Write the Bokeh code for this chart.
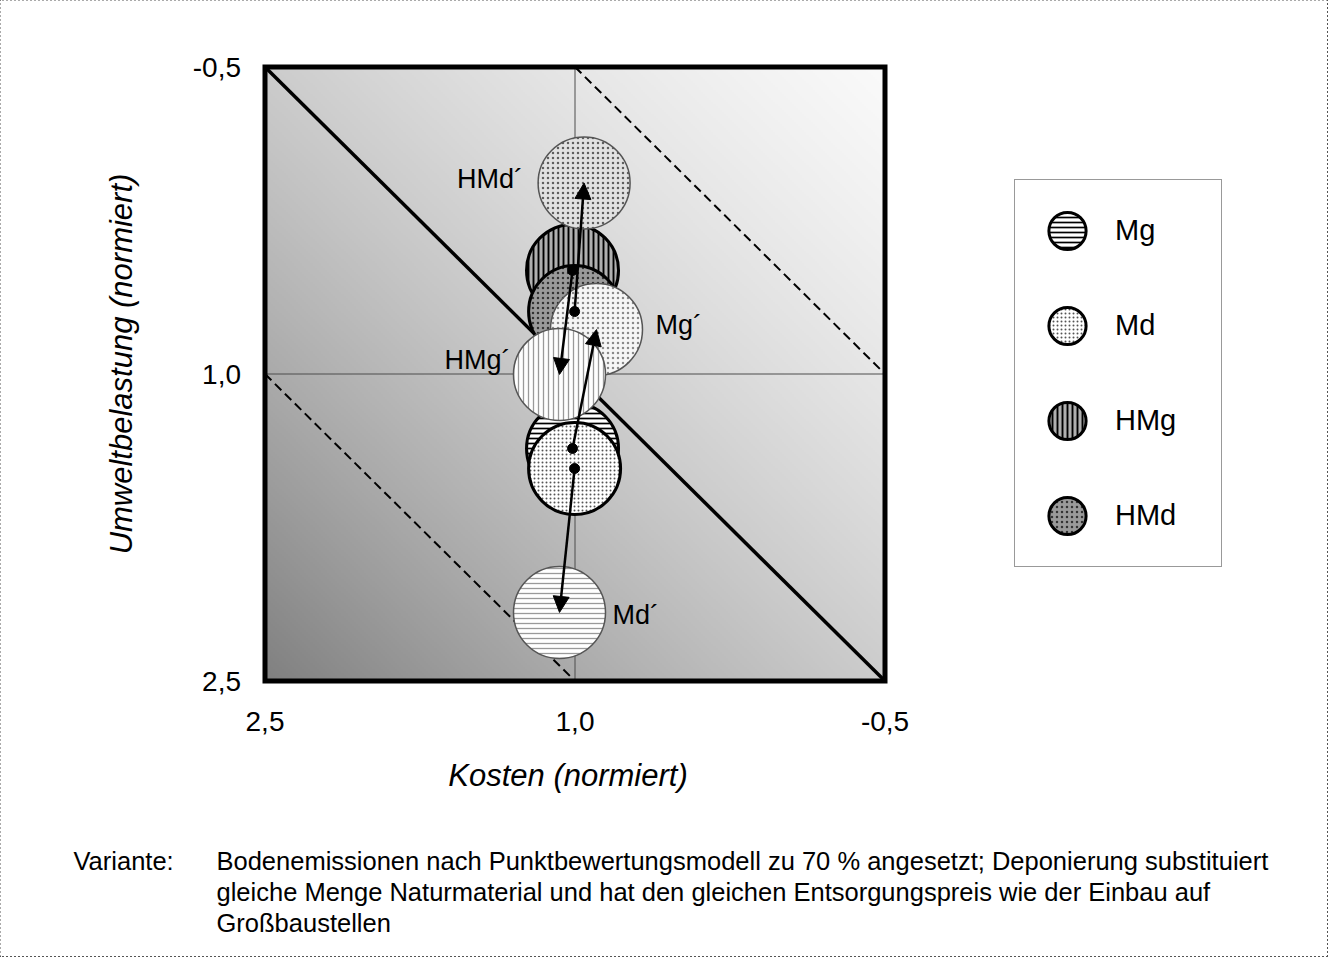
import numpy as np
from bokeh.plotting import figure
from bokeh.models import (Range1d, FixedTicker, Legend, LegendItem, Label,
                          Arrow, NormalHead, ColumnDataSource)
from bokeh.core.properties import value
from bokeh.embed import file_html
from bokeh.resources import INLINE

# ---------------- data ----------------
series = ["Mg", "Md", "HMg", "HMd"]
cost_before = [1.012, 1.002, 1.012, 1.002]
env_before = [1.364, 1.462, 0.494, 0.695]
series_after = ["Mg´", "Md´", "HMg´", "HMd´"]
cost_after = [0.896, 1.075, 1.075, 0.956]
env_after = [0.783, 2.165, 1.002, 0.067]

tick_values = [-0.5, 1.0, 2.5]
tick_labels = ["-0,5", "1,0", "2,5"]
axis_low, axis_high = -0.5, 2.5
reference_value = 1.0

balance_cost = [2.5, -0.5]
balance_env = [-0.5, 2.5]
upper_cost = [1.0, -0.5]
upper_env = [-0.5, 1.0]
lower_cost = [2.5, 1.0]
lower_env = [1.0, 2.5]

x_title = "Kosten (normiert)"
y_title = "Umweltbelastung (normiert)"
caption_head = "Variante:"
caption_lines = [
    "Bodenemissionen nach Punktbewertungsmodell zu 70 % angesetzt; Deponierung substituiert",
    "gleiche Menge Naturmaterial und hat den gleichen Entsorgungspreis wie der Einbau auf",
    "Großbaustellen",
]

# ---------------- layout / styles ----------------
FONT = "Liberation Sans"
W, H = 1327, 956
PX_LEFT, PX_RIGHT = 264.5, 884.5      # square chart area in canvas pixels
PX_TOP, PX_BOTTOM = 66.5, 680.5

span = axis_high - axis_low
kx = (PX_RIGHT - PX_LEFT) / span
ky = (PX_BOTTOM - PX_TOP) / span
x_range = Range1d(axis_high + PX_LEFT / kx, axis_low - (W - PX_RIGHT) / kx)
y_range = Range1d(axis_high + (H - PX_BOTTOM) / ky, axis_low - PX_TOP / ky)

before_styles = {
    "Mg":  dict(fill_color="white", hatch_pattern="horizontal_line", hatch_color="black", hatch_scale=5, hatch_weight=1.7),
    "Md":  dict(fill_color="white", hatch_pattern="dot", hatch_color="#555555", hatch_scale=4, hatch_weight=1),
    "HMg": dict(fill_color="#b0b0b0", hatch_pattern="vertical_line", hatch_color="black", hatch_scale=5, hatch_weight=1.9),
    "HMd": dict(fill_color="#9a9a9a", hatch_pattern="dot", hatch_color="#333333", hatch_scale=5, hatch_weight=2),
}
after_styles = {
    "Mg´":  dict(fill_color="#f6f6f6", hatch_pattern="dot", hatch_color="#8a8a8a", hatch_scale=5, hatch_weight=1),
    "Md´":  dict(fill_color="white", hatch_pattern="horizontal_line", hatch_color="#9a9a9a", hatch_scale=5, hatch_weight=1.3),
    "HMg´": dict(fill_color="white", hatch_pattern="vertical_line", hatch_color="#9a9a9a", hatch_scale=5, hatch_weight=1.3),
    "HMd´": dict(fill_color="#e2e2e2", hatch_pattern="dot", hatch_color="#5e5e5e", hatch_scale=5, hatch_weight=2),
}
label_offsets = {"Mg´": (59, -5, "left"), "Md´": (53, 3, "left"),
                 "HMg´": (-49, -14, "right"), "HMd´": (-61, -4, "right")}

p = figure(width=W, height=H, min_border=0, x_range=x_range, y_range=y_range,
           output_backend="svg", toolbar_location=None)
p.title.visible = False
p.background_fill_color = "white"
p.border_fill_color = "white"
p.outline_line_color = None
p.styles = {"outline": "2px dotted #555555", "outline-offset": "-1px"}
p.xgrid.visible = False
p.ygrid.visible = False

# background gradient (dark bottom-left -> light top-right) on the square area
p.extra_x_ranges = {"bg": Range1d(-PX_LEFT / (PX_RIGHT - PX_LEFT), (W - PX_LEFT) / (PX_RIGHT - PX_LEFT))}
p.extra_y_ranges = {"bg": Range1d(-(H - PX_BOTTOM) / (PX_BOTTOM - PX_TOP), 1 + PX_TOP / (PX_BOTTOM - PX_TOP))}
n = 300
ii, jj = np.mgrid[0:n, 0:n]
t = (ii + jj) / (2.0 * (n - 1))
g = np.clip(128 + 182 * t - 60 * t ** 2, 0, 255).astype(np.uint32)
img = ((255 << 24) | (g << 16) | (g << 8) | g).astype(np.uint32)
p.image_rgba(image=[img], x=0, y=0, dw=1, dh=1,
             x_range_name="bg", y_range_name="bg", level="image")

# axes, fixed on the edges of the square
for ax in (p.xaxis, p.yaxis):
    ax.fixed_location = axis_high
    ax.ticker = FixedTicker(ticks=tick_values)
    ax.major_label_overrides = dict(zip(tick_values, tick_labels))
    ax.axis_line_color = None
    ax.major_tick_line_color = None
    ax.minor_tick_line_color = None
    ax.major_tick_in = 0
    ax.major_tick_out = 0
    ax.major_label_text_font = FONT
    ax.major_label_text_font_size = "28px"
    ax.major_label_text_color = "black"
    ax.axis_label_text_font = FONT
    ax.axis_label_text_font_size = "31px"
    ax.axis_label_text_font_style = "italic"
    ax.axis_label_text_color = "black"
# bounds slightly extended so that the titles sit where the original places them
p.xaxis.bounds = (axis_low, axis_high + 0.07)
p.yaxis.bounds = (axis_low - 0.1, axis_high)
p.xaxis.axis_label = x_title
p.yaxis.axis_label = y_title
p.xaxis.major_label_standoff = 31
p.yaxis.major_label_standoff = 24
p.xaxis.axis_label_standoff = 23
p.yaxis.axis_label_standoff = 51
p.yaxis.major_label_orientation = "horizontal"

# reference (cross) lines at the normalised value 1.0
p.line([reference_value, reference_value], [axis_low, axis_high], line_color="#4d4d4d", line_width=1)
p.line([axis_low, axis_high], [reference_value, reference_value], line_color="#4d4d4d", line_width=1)

# diagonal lines
p.line(balance_cost, balance_env, line_color="black", line_width=3.5)
p.line(upper_cost, upper_env, line_color="black", line_width=2, line_dash="9 5")
p.line(lower_cost, lower_env, line_color="black", line_width=2, line_dash="9 5")

# circles: original variants first, then the modified ones
before_renderers = {}
for name, cx, cy in zip(series, cost_before, env_before):
    r = p.scatter([cx], [cy], size=92, marker="circle", line_color="black",
                  line_width=3, **before_styles[name])
    before_renderers[name] = r
after_order = ["HMd´", "Mg´", "HMg´", "Md´"]
for name in after_order:
    k = series_after.index(name)
    p.scatter([cost_after[k]], [env_after[k]], size=92, marker="circle",
              line_color="#555555", line_width=1.5, **after_styles[name])

# centre dots of the original variants
p.scatter(cost_before, env_before, size=10, marker="circle", color="black")

# arrows
arrow_src = ColumnDataSource(dict(x0=cost_before, y0=env_before, x1=cost_after, y1=env_after))
p.add_layout(Arrow(end=NormalHead(size=16, fill_color="black", line_color="black"),
                   x_start="x0", y_start="y0", x_end="x1", y_end="y1",
                   source=arrow_src, line_color="black", line_width=2.5))

# square border
p.quad(left=[axis_high], right=[axis_low], top=[axis_low], bottom=[axis_high],
       fill_color=None, line_color="black", line_width=5, line_join="miter")

# labels of modified variants
for name, cx, cy in zip(series_after, cost_after, env_after):
    dx, dy, align = label_offsets[name]
    p.text([cx], [cy], text=[name], x_offset=dx, y_offset=dy, text_align=align,
           text_baseline="middle", text_font=value(FONT), text_font_size="27px",
           text_color="black")

# legend
legend = Legend(items=[LegendItem(label=s, renderers=[before_renderers[s]]) for s in series],
                location=(1014, H - 181 - 386), orientation="vertical",
                glyph_width=96, glyph_height=93, spacing=2, padding=4,
                label_standoff=0, label_width=102,
                label_text_font=FONT, label_text_font_size="29px", label_text_color="black",
                border_line_color="#333333", border_line_width=1,
                background_fill_color="white", background_fill_alpha=1.0, margin=0)
p.add_layout(legend)

# caption
cap_y = [860, 891, 922]
p.add_layout(Label(x=73, y=H - cap_y[0], x_units="screen", y_units="screen", text=caption_head,
                   text_font=FONT, text_font_size="25.5px", text_baseline="middle", text_color="black"))
for yy, line in zip(cap_y, caption_lines):
    p.add_layout(Label(x=216, y=H - yy, x_units="screen", y_units="screen", text=line,
                       text_font=FONT, text_font_size="25.5px", text_baseline="middle", text_color="black"))

open("out.html", "w").write(file_html(p, INLINE))
